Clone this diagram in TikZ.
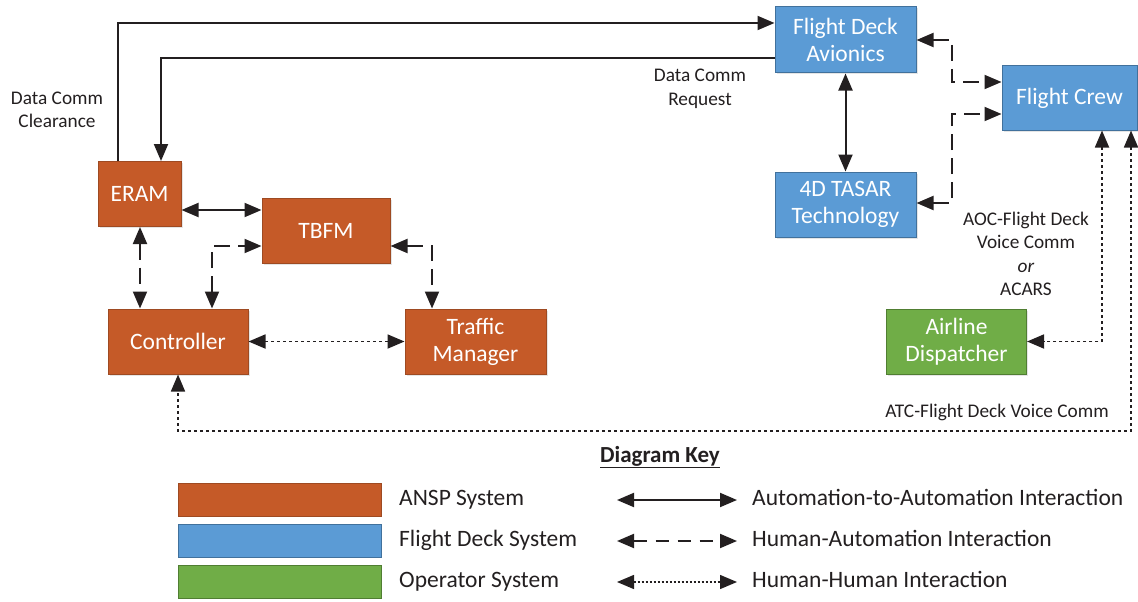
\documentclass[tikz,border=0pt]{standalone}
\usepackage{fontspec}
\setmainfont{Carlito}
\usetikzlibrary{arrows.meta,shadows}

\definecolor{ansp}{HTML}{C55A28}
\definecolor{anspedge}{HTML}{9E4A22}
\definecolor{fdeck}{HTML}{5B9BD5}
\definecolor{fdeckedge}{HTML}{41719C}
\definecolor{oper}{HTML}{70AD47}
\definecolor{operedge}{HTML}{507E32}
\definecolor{ink}{HTML}{231F20}

\tikzset{
  sysbox/.style={draw, line width=1pt, minimum height=65pt, text=white,
    align=center, font=\fontsize{23.5}{27}\selectfont, inner sep=2pt,
    drop shadow={shadow xshift=1.5pt, shadow yshift=-1.5pt, opacity=0.25, fill=black!40}},
  anspbox/.style={sysbox, fill=ansp, draw=anspedge},
  fdbox/.style={sysbox, fill=fdeck, draw=fdeckedge},
  opbox/.style={sysbox, fill=oper, draw=operedge},
  keybox/.style={draw, line width=1pt, minimum width=203pt, minimum height=33pt, inner sep=0pt},
  tip/.tip={Triangle[length=17pt, width=14pt]},
  link/.style={draw=ink, line width=2pt},
  autoauto/.style={link},
  humauto/.style={link, dash pattern=on 16pt off 8pt},
  humhum/.style={link, line width=1.8pt, dash pattern=on 3pt off 3pt},
  lbl/.style={text=ink, align=center, font=\fontsize{19.3}{23.5}\selectfont, inner sep=0pt},
  keylbl/.style={text=ink, anchor=west, font=\fontsize{23.5}{27}\selectfont,
    inner sep=0pt, text height=15pt, text depth=4pt},
}

\begin{document}
\begin{tikzpicture}[x=1pt, y=-1pt]
\useasboundingbox (0,0) rectangle (1138,602);

% ANSP systems
\node[anspbox, minimum width=83pt]  (eram) at (139.5,194) {ERAM};
\node[anspbox, minimum width=128pt] (tbfm) at (326,230.5) {TBFM};
\node[anspbox, minimum width=140pt] (ctrl) at (178,341.5) {Controller};
\node[anspbox, minimum width=141pt] (tm)   at (475.5,341.5) {Traffic\\Manager};

% Flight deck systems
\node[fdbox, minimum width=141pt, minimum height=66pt] (fda)   at (845.5,40) {Flight Deck\\Avionics};
\node[fdbox, minimum width=141pt] (tasar) at (845.5,204.5) {4D TASAR\\Technology};
\node[fdbox, minimum width=135pt, minimum height=64pt] (crew)  at (1069.5,98) {Flight Crew};

% Operator system
\node[opbox, minimum width=140pt] (disp) at (956.5,341.5) {Airline\\Dispatcher};

% Data Comm exchange between ERAM and the avionics
\draw[autoauto, -tip] (eram.north -| 118,0) |- (fda.west |- 0,23);
\draw[autoauto, -tip] (fda.west |- 0,58) -| (eram.north -| 161,0);
\node[lbl] (clr) at (57,110) {Data Comm\\Clearance};
\node[lbl] (req) at (700,89) {Data Comm\\Request};

% Ground-side links
\draw[autoauto, tip-tip] (eram.east |- 0,210) -- (tbfm.west |- 0,210);
\draw[humauto, tip-tip] (eram.south -| 140,0) -- (ctrl.north -| 140,0);
\draw[humauto, tip-tip] (ctrl.north -| 212,0) |- (tbfm.west |- 0,246);
\draw[humauto, tip-tip] (tbfm.east |- 0,246) -| (tm.north -| 432,0);
\draw[humhum, tip-tip] (ctrl.east) -- (tm.west);

% Flight-deck links
\draw[autoauto, tip-tip] (fda.south) -- (tasar.north);
\draw[humauto, tip-tip] (fda.east |- 0,40) -- (952,40) -- (952,82) -- (crew.west |- 0,82);
\draw[humauto, tip-tip] (tasar.east |- 0,203) -- (952,203) -- (952,114) -- (crew.west |- 0,114);

% Voice and datalink to the ground
\draw[humhum, tip-tip] (crew.south -| 1102,0) |- (disp.east);
\draw[humhum, tip-tip] (crew.south -| 1131,0) -- (1131,431) -| (ctrl.south);
\node[lbl] (aoc) at (1026,254) {AOC-Flight Deck\\Voice Comm\\\textit{or}\\ACARS};
\node[lbl] (atc) at (997,412) {ATC-Flight Deck Voice Comm};

% Key
\node[text=ink, font=\bfseries\fontsize{23}{27}\selectfont, inner sep=0pt] (keyttl) at (660,457) {\underline{Diagram Key}};

\node[keybox, fill=ansp, draw=anspedge]   (k1) at (279.5,500) {};
\node[keybox, fill=fdeck, draw=fdeckedge] (k2) at (279.5,541) {};
\node[keybox, fill=oper, draw=operedge]   (k3) at (279.5,582) {};
\node[keylbl] (k1t) at (399,500) {ANSP System};
\node[keylbl] (k2t) at (399,541) {Flight Deck System};
\node[keylbl] (k3t) at (399,582) {Operator System};

\coordinate (a1l) at (617,500); \coordinate (a1r) at (737,500);
\coordinate (a2l) at (617,541); \coordinate (a2r) at (737,541);
\coordinate (a3l) at (617,582); \coordinate (a3r) at (737,582);
\draw[autoauto, tip-tip] (a1l) -- (a1r);
\draw[humauto, dash pattern=on 13pt off 9pt, tip-tip] (a2l) -- (a2r);
\draw[humhum, line width=1.4pt, dash pattern=on 2pt off 2pt, tip-tip] (a3l) -- (a3r);
\node[keylbl] (a1t) at (752,500) {Automation-to-Automation Interaction};
\node[keylbl] (a2t) at (752,541) {Human-Automation Interaction};
\node[keylbl] (a3t) at (752,582) {Human-Human Interaction};
\end{tikzpicture}
\end{document}
